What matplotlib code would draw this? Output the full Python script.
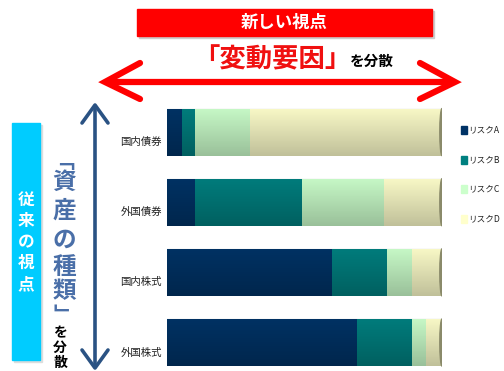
import numpy as np
import matplotlib
matplotlib.use("Agg")
import matplotlib.pyplot as plt
from matplotlib.patches import Rectangle, Ellipse

plt.rcParams['font.family'] = ['Noto Sans CJK JP', 'DejaVu Sans']

# ---- data ----
categories = ['国内債券', '外国債券', '国内株式', '外国株式']
series_names = ['リスクA', 'リスクB', 'リスクC', 'リスクD']
risk_a = [5.5, 10, 60, 69]
risk_b = [4.5, 39, 20, 20]
risk_c = [20, 30, 9, 5]
risk_d = [70, 21, 11, 6]
colors = ['#003366', '#008080', '#CCFFCC', '#FFFFCC']

W, H = 504, 371
fig = plt.figure(figsize=(W / 100, H / 100), dpi=100)

# decoration axes in pixel coordinates
deco = fig.add_axes([0, 0, 1, 1])
deco.set_xlim(0, W)
deco.set_ylim(H, 0)
deco.axis('off')

# top red box
deco.add_patch(Rectangle((139, 11), 295, 27, color='#CCCCCC', zorder=1))
deco.add_patch(Rectangle((137, 9), 295, 27, color='#FF0000', zorder=2))
deco.text(284, 23, '新しい視点', color='white', fontsize=12.5, fontweight='bold',
          ha='center', va='center', zorder=3)
deco.text(272, 60, '「変動要因」', color='#F01010', fontsize=19, fontweight='bold',
          ha='center', va='center')
deco.text(372, 61, 'を分散', color='black', fontsize=10.5, fontweight='bold',
          ha='center', va='center')

# red double arrow
red = '#FF0000'
lw_r = 4.5
deco.plot([107, 453], [82, 82], color=red, lw=lw_r, solid_capstyle='round')
for tip, back in [(105, 140), (455, 420)]:
    deco.plot([back, tip, back], [63, 82, 99], color=red, lw=lw_r,
              solid_capstyle='round', solid_joinstyle='miter')

# left cyan box
deco.add_patch(Rectangle((14, 125), 28, 237, color='#DDDDDD', zorder=1))
deco.add_patch(Rectangle((12, 123), 28, 237, color='#00CCFF', zorder=2))
for i, ch in enumerate('従来の視点'):
    deco.text(26, 200 + i * 21, ch, color='white', fontsize=12, fontweight='bold',
              ha='center', va='center', zorder=3)

# vertical text 「資産の種類」
vcol = '#4A6FA8'
vchars = ['﹁', '資', '産', 'の', '種', '類', '﹂']
vys = [161, 182, 211, 240, 267, 291, 315]
vsizes = [15, 17, 17, 17, 17, 17, 15]
for ch, y, fs in zip(vchars, vys, vsizes):
    deco.text(64, y, ch, color=vcol, fontsize=fs, fontweight='bold',
              ha='center', va='center')
for ch, y in zip('を分散', [333, 348, 363]):
    deco.text(60, y, ch, color='black', fontsize=10, fontweight='bold',
              ha='center', va='center')

# vertical blue double arrow
bcol = '#2A5283'
lw_b = 2.6
deco.plot([95, 95], [107, 366], color=bcol, lw=lw_b, solid_capstyle='round')
deco.plot([82, 95, 108], [123, 105, 123], color=bcol, lw=lw_b, solid_capstyle='round')
deco.plot([82, 95, 108], [350, 368, 350], color=bcol, lw=lw_b, solid_capstyle='round')

# ---- bar axes ----
left_px, right_px = 167, 442
top_px, bot_px = 104, 370.6
ax = fig.add_axes([left_px / W, 1 - bot_px / H, (right_px - left_px) / W, (bot_px - top_px) / H])
ax.set_xlim(0, 100)
ax.set_ylim(3.4, -0.4)
ax.axis('off')

ypos = np.arange(len(categories))
bh = 0.67
series = [risk_a, risk_b, risk_c, risk_d]
lefts = np.zeros(len(categories))
for vals, col, name in zip(series, colors, series_names):
    ax.barh(ypos, vals, left=lefts, height=bh, color=col, label=name, zorder=2)
    lefts = lefts + np.array(vals)

# cylinder shading
grad = np.linspace(0, 1, 64).reshape(-1, 1)
shade = np.zeros((64, 1, 4))
shade[..., 3] = 0.03 + 0.22 * grad
for y in ypos:
    ax.imshow(shade, extent=(0, 100, y + bh / 2, y - bh / 2), aspect='auto',
              zorder=3, interpolation='bilinear')
    ax.add_patch(Ellipse((lefts[int(y)], y), 1.6, bh, color='#8A8A6A', zorder=4))
ax.set_xlim(0, 100)
ax.set_ylim(3.4, -0.4)

# category labels
for y, cat in zip(ypos, categories):
    deco.text(162, 142 + y * 70.2, cat, fontsize=7.5, ha='right', va='center', color='#222222')

# legend
for i, (name, col) in enumerate(zip(series_names, colors)):
    yy = 130 + i * 29.5
    deco.add_patch(Rectangle((461, yy - 4), 6, 8, color=col))
    deco.text(468, yy, name, fontsize=6.2, ha='left', va='center', color='#222222')

fig.savefig('out.png', dpi=100)
